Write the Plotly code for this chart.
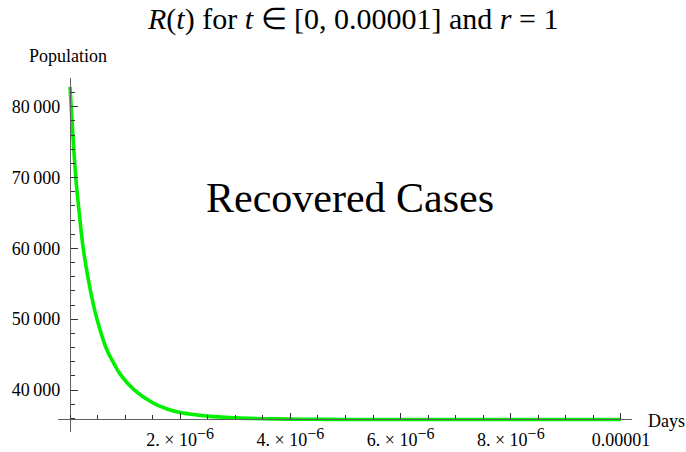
import plotly.graph_objects as go

# Recovered cases R(t) over a very short time window (days), r = 1
t_days = [0.0, 0.05e-6, 0.105e-6, 0.17e-6, 0.24e-6, 0.33e-6, 0.42e-6, 0.49e-6,
          0.653e-6, 0.8e-6, 0.913e-6, 1.154e-6, 1.5e-6, 1.75e-6, 2.0e-6, 2.5e-6,
          3.0e-6, 3.5e-6, 4.0e-6, 4.5e-6, 5.0e-6, 6.0e-6, 7.0e-6, 8.0e-6, 9.0e-6,
          10.0e-6]
recovered = [82800, 76300, 70000, 64800, 60000, 55700, 52200, 50000,
             45970, 43700, 42200, 40100, 38200, 37350, 36810, 36310,
             36070, 35950, 35890, 35860, 35845, 35834, 35830, 35830, 35830,
             35830]

x_tick_vals = [2e-6, 4e-6, 6e-6, 8e-6, 1e-5]
x_tick_text = ["2.", "4.", "6.", "8.", "0.00001"]
y_tick_vals = [40000, 50000, 60000, 70000, 80000]
y_tick_text = ["40\u2009000", "50\u2009000", "60\u2009000", "70\u2009000", "80\u2009000"]

W, H = 686, 452
L, R, T, B = 58, 54, 78, 20
x_range = [-0.218e-6, 10.2e-6]
y_range = [34070, 84050]
x_axis_at = 35950  # value where the horizontal axis crosses

FONT = "Liberation Serif, Times New Roman, serif"


def sci_label(mant):
    if mant == "0.00001":
        return mant
    return (mant + " \u00d7 10<sup><span style='font-size:16px'>\u22126</span></sup>")


def px_to_paper(px, py):
    return (px - L) / (W - L - R), (H - B - py) / (H - T - B)


fig = go.Figure()
fig.add_trace(go.Scatter(
    x=t_days, y=recovered, mode="lines",
    line=dict(color="#00f000", width=3.6, shape="spline", smoothing=1.0),
    hoverinfo="skip", showlegend=False,
))

axis_col = "#5f5f5f"
fig.update_layout(
    template="none",
    width=W, height=H,
    margin=dict(l=L, r=R, t=T, b=B),
    paper_bgcolor="white", plot_bgcolor="white",
    font=dict(family=FONT, size=18, color="black"),
    xaxis=dict(
        range=x_range, anchor="free", automargin=False,
        position=(x_axis_at - y_range[0]) / (y_range[1] - y_range[0]),
        showgrid=False, zeroline=False, showline=True,
        linecolor=axis_col, linewidth=1.2,
        ticks="inside", ticklen=6, tickwidth=1, tickcolor="#333333",
        tickmode="array", tickvals=x_tick_vals,
        ticktext=[sci_label(m) for m in x_tick_text],
        tickfont=dict(family=FONT, size=18, color="black"),
        ticklabelstandoff=5,
        minor=dict(ticks="inside", ticklen=3.5, tickwidth=1, tickcolor="#333333",
                   tick0=0, dtick=0.5e-6, showgrid=False),
    ),
    yaxis=dict(
        range=y_range, anchor="free", automargin=False,
        position=(0 - x_range[0]) / (x_range[1] - x_range[0]),
        showgrid=False, zeroline=False, showline=True,
        linecolor=axis_col, linewidth=1.2,
        ticks="inside", ticklen=7, tickwidth=1, tickcolor="#333333",
        tickmode="array", tickvals=y_tick_vals, ticktext=y_tick_text,
        tickfont=dict(family=FONT, size=18, color="black"),
        ticklabelstandoff=6,
        minor=dict(ticks="inside", ticklen=4, tickwidth=1, tickcolor="#333333",
                   tick0=0, dtick=2000, showgrid=False),
    ),
)

annots = [
    ("<i>R</i>(<i>t</i>) for <i>t</i> \u2208 [0, 0.00001] and <i>r</i> = 1",
     352, 19, 30, "center"),
    ("Population", 68, 56, 18, "center"),
    ("Recovered Cases", 350, 198, 42, "center"),
    ("Days", 646, 421, 18, "left"),
]
for text, px, py, size, xa in annots:
    ax, ay = px_to_paper(px, py)
    fig.add_annotation(text=text, x=ax, y=ay, xref="paper", yref="paper",
                       xanchor=xa, yanchor="middle", showarrow=False,
                       font=dict(family=FONT, size=size, color="black"))

fig.write_html("out.html")
